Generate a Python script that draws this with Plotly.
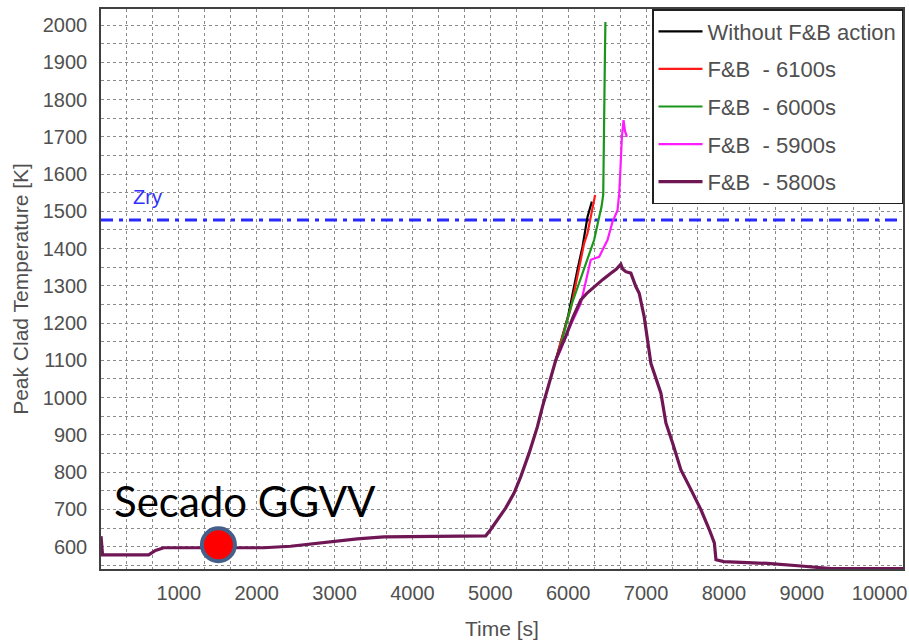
import plotly.graph_objects as go

# ---- data ----
purple_t = [0, 20, 612, 700, 805, 2090, 2434, 2991, 3291, 3634, 4148, 4941, 5005, 5198, 5305,
            5391, 5498, 5605, 5670, 5755, 5841, 5905, 5970, 6060, 6162, 6250, 6333, 6450, 6548,
            6620, 6676, 6700, 6740, 6805, 6869, 6912, 6976, 7062, 7191, 7255, 7341, 7448, 7577,
            7705, 7812, 7877, 7898, 8000, 8300, 8562, 8991, 9377, 10300]
purple_T = [628, 578, 578, 590, 597, 597, 601, 614, 621, 626, 628, 629, 646, 704, 744,
            788, 851, 922, 976, 1039, 1101, 1135, 1165, 1215, 1262, 1282, 1298, 1318, 1334,
            1345, 1358, 1345, 1338, 1334, 1298, 1280, 1217, 1092, 1012, 932, 878, 806, 753,
            699, 646, 610, 565, 560, 557, 555, 548, 541, 541]

black_t = [5841, 5905, 6000, 6119, 6184, 6248, 6290, 6304]
black_T = [1101, 1150, 1220, 1343, 1405, 1485, 1515, 1526]

red_t = [5841, 5905, 6034, 6141, 6205, 6248, 6312, 6346]
red_T = [1101, 1150, 1240, 1351, 1414, 1441, 1512, 1544]

green_t = [5841, 5905, 6034, 6162, 6248, 6333, 6398, 6428, 6450, 6458, 6465, 6472, 6478]
green_T = [1101, 1140, 1244, 1320, 1370, 1423, 1485, 1512, 1545, 1640, 1800, 1920, 2008]

magenta_t = [5841, 5905, 6000, 6162, 6290, 6398, 6505, 6569, 6634, 6655, 6668, 6676, 6690,
             6711, 6730, 6754]
magenta_T = [1101, 1128, 1180, 1253, 1370, 1378, 1423, 1472, 1503, 1548, 1600, 1660, 1700,
             1745, 1715, 1700]

zry_value = 1477
marker_t = [1508]
marker_T = [605]

x_ticks = [1000, 2000, 3000, 4000, 5000, 6000, 7000, 8000, 9000, 10000]
y_ticks = [600, 700, 800, 900, 1000, 1100, 1200, 1300, 1400, 1500, 1600, 1700, 1800, 1900, 2000]

series = [
    ("Without F&B action", black_t, black_T, "#000000", 2.2),
    ("F&B\u00a0 - 6100s", red_t, red_T, "#ff1a1a", 2.2),
    ("F&B\u00a0 - 6000s", green_t, green_T, "#1a961a", 2.2),
    ("F&B\u00a0 - 5900s", magenta_t, magenta_T, "#ff1aff", 2.2),
    ("F&B\u00a0 - 5800s", purple_t, purple_T, "#6f1655", 3.2),
]

fig = go.Figure()

fig.add_trace(go.Scatter(x=[0, 10300], y=[zry_value, zry_value], mode="lines",
                         line=dict(color="#2a2aff", width=3, dash="12px,6px,4px,6px"),
                         showlegend=False, hoverinfo="skip"))

for i, (name, t, T, col, w) in enumerate(series):
    fig.add_trace(go.Scatter(x=t, y=T, mode="lines", name=name, legendgroup=str(i),
                             line=dict(color=col, width=w)))

fig.add_trace(go.Scatter(x=marker_t, y=marker_T, mode="markers", showlegend=False,
                         marker=dict(size=33, color="#ff0000",
                                     line=dict(color="#44608a", width=4))))

fig.add_annotation(x=595, y=1538, text="Zry", showarrow=False,
                   font=dict(family="Liberation Sans, Arial", size=20, color="#3030ff"))
fig.add_annotation(x=140, y=722, text="Secado GGVV", showarrow=False, xanchor="left",
                   font=dict(family="Lato", size=42, color="#000000"))

grid = dict(showgrid=True, gridcolor="#8a8a8a", gridwidth=1, griddash="dot")
fig.update_xaxes(range=[0, 10300], tickvals=x_ticks, ticktext=[str(v) for v in x_ticks],
                 minor=dict(dtick=1000 / 3, tick0=0, showgrid=True, gridcolor="#8a8a8a",
                            griddash="dot", gridwidth=1),
                 showline=True, linecolor="#404040", linewidth=1.5, mirror=True,
                 zeroline=False, ticks="", ticklabelstandoff=5, automargin=False,
                 title=dict(text="Time [s]", standoff=19,
                            font=dict(family="Liberation Sans, Arial", size=21, color="#505050")),
                 tickfont=dict(family="Liberation Sans, Arial", size=20, color="#505050"),
                 **grid)
fig.update_yaxes(range=[540, 2043], tickvals=y_ticks, ticktext=[str(v) for v in y_ticks],
                 minor=dict(dtick=50, tick0=0, showgrid=True, gridcolor="#8a8a8a",
                            griddash="dot", gridwidth=1),
                 showline=True, linecolor="#404040", linewidth=1.5, mirror=True,
                 zeroline=False, ticks="", ticklabelstandoff=8, automargin=False,
                 title=dict(text="Peak Clad Temperature [K]", standoff=8,
                            font=dict(family="Liberation Sans, Arial", size=21, color="#505050")),
                 tickfont=dict(family="Liberation Sans, Arial", size=20, color="#505050"),
                 **grid)

fig.update_layout(
    width=909, height=641,
    margin=dict(l=101, r=6, t=9, b=72),
    paper_bgcolor="white", plot_bgcolor="white",
    legend=dict(x=1, y=1, xanchor="right", yanchor="top", bgcolor="white",
                bordercolor="#202020", borderwidth=1.5, tracegroupgap=6,
                font=dict(family="Liberation Sans, Arial", size=22, color="#505050"),
                itemwidth=44),
    showlegend=True,
)

fig.write_html("out.html")
